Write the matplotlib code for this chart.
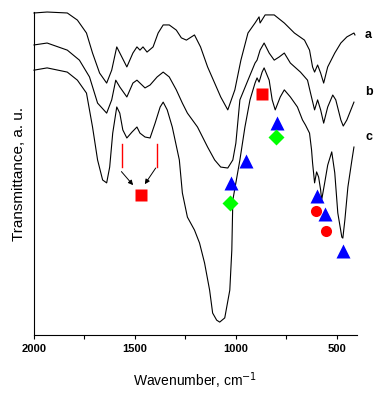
import matplotlib

matplotlib.use("Agg")
import matplotlib.pyplot as plt  # noqa: E402

plt.rcParams["font.family"] = ["Liberation Sans", "DejaVu Sans"]

# spectra: wavenumber (cm-1) and transmittance (a.u.)
wn_a = [2000, 1935, 1835, 1785, 1740, 1710, 1675, 1640, 1615, 1590, 1565, 1540,
        1510, 1490, 1475, 1460, 1440, 1410, 1385, 1360, 1330, 1295, 1270, 1245,
        1205, 1175, 1140, 1105, 1075, 1040, 1005, 975, 940, 905, 885, 880, 855,
        810, 760, 710, 660, 635, 620, 610, 595, 580, 565, 545, 510, 480, 450,
        415, 410]
t_a = [99.7, 100.0, 99.7, 97.5, 93.5, 87.3, 81.1, 78.0, 82.0, 89.2, 86.1, 83.0,
       87.3, 89.2, 88.2, 89.2, 87.6, 89.2, 93.5, 96.0, 96.0, 94.4, 92.0, 91.3,
       92.9, 89.2, 83.0, 78.0, 73.7, 69.7, 75.9, 85.1, 93.5, 96.6, 98.5, 96.6,
       99.1, 99.1, 96.6, 93.5, 91.3, 88.2, 83.0, 81.4, 83.6, 81.1, 78.0, 83.0,
       87.3, 90.4, 92.3, 93.5, 92.9]

wn_b = [2000, 1935, 1835, 1775, 1725, 1685, 1640, 1615, 1595, 1575, 1540, 1510,
        1490, 1475, 1450, 1425, 1390, 1360, 1330, 1295, 1265, 1240, 1190, 1140,
        1105, 1075, 1040, 1015, 1000, 980, 940, 905, 895, 880, 860, 835, 810,
        785, 760, 730, 680, 645, 630, 610, 595, 580, 565, 545, 520, 505, 480,
        468, 450, 415]
t_b = [89.8, 90.4, 88.2, 85.1, 79.9, 71.8, 68.7, 72.8, 78.9, 76.8, 73.7, 78.0,
       78.9, 78.0, 76.5, 77.4, 79.9, 81.4, 79.9, 75.9, 71.8, 68.7, 64.4, 58.2,
       54.2, 52.0, 51.7, 54.2, 59.4, 72.8, 78.9, 84.2, 85.1, 88.2, 90.4, 87.3,
       85.1, 86.1, 87.3, 84.2, 81.4, 78.9, 74.9, 69.7, 72.8, 69.7, 65.6, 70.6,
       74.3, 72.8, 66.6, 64.7, 66.6, 72.1]

wn_c = [2000, 1935, 1835, 1785, 1740, 1710, 1685, 1660, 1640, 1625, 1610, 1590,
        1575, 1560, 1540, 1515, 1490, 1475, 1450, 1425, 1400, 1375, 1360, 1340,
        1315, 1280, 1265, 1240, 1205, 1180, 1155, 1130, 1115, 1095, 1080, 1055,
        1030, 1020, 1015, 1000, 980, 955, 930, 905, 895, 885, 870, 860, 835,
        820, 805, 780, 760, 730, 695, 670, 655, 635, 625, 620, 610, 600, 590,
        580, 575, 560, 545, 525, 510, 495, 475, 470, 460, 445, 425, 415]
t_c = [82.0, 82.7, 81.4, 78.9, 74.9, 64.4, 54.2, 48.0, 47.1, 52.0, 62.5, 70.6,
       68.7, 63.5, 61.0, 62.8, 64.4, 62.5, 61.3, 61.0, 65.6, 70.6, 72.1, 69.7,
       64.4, 54.2, 44.0, 36.5, 32.5, 28.5, 22.3, 13.9, 6.8, 4.6, 4.0, 5.3,
       13.9, 26.3, 41.8, 47.1, 54.2, 64.4, 72.8, 78.0, 79.6, 78.3, 81.4, 82.7,
       78.9, 72.8, 69.7, 73.7, 75.9, 73.7, 70.6, 66.6, 65.0, 62.5, 57.3, 53.3,
       47.1, 50.5, 48.9, 44.9, 41.8, 47.1, 52.6, 56.7, 50.2, 37.8, 30.3, 30.0,
       35.6, 45.8, 54.2, 58.2]

# band assignment markers
sq_wn = [1470, 870]
sq_t = [43.3, 74.5]
tri_wn = [795, 950, 1025, 600, 560, 468]
tri_t = [65.6, 53.9, 47.1, 43.0, 37.5, 26.0]
dia_wn = [800, 1030]
dia_t = [61.3, 40.9]
circ_wn = [605, 555]
circ_t = [38.4, 32.2]

# red bracket + arrows pointing at the square
bracket_wn = [1562, 1393]
bracket_t = (59.1, 52.0)
arrow_from = [(1567, 50.6), (1397, 51.7)]
arrow_to = [(1509, 46.4), (1451, 46.7)]

curve_labels = ["a", "b", "c"]
label_t = [92.9, 75.2, 61.3]

fig = plt.figure(figsize=(3.76, 3.94), dpi=100)
ax = fig.add_axes([0.0904, 0.1497, 0.859, 0.8198])

for wn, t in [(wn_a, t_a), (wn_b, t_b), (wn_c, t_c)]:
    ax.plot(wn, t, color="black", lw=0.8, clip_on=False)

for x in bracket_wn:
    ax.plot([x, x], bracket_t, color="red", lw=1.0)
for (x0, y0), (x1, y1) in zip(arrow_from, arrow_to):
    ax.annotate("", xy=(x1, y1), xytext=(x0, y0),
                arrowprops=dict(arrowstyle="-|>", color="black", lw=0.7,
                                mutation_scale=7, shrinkA=0, shrinkB=0))

ax.plot(sq_wn, sq_t, "s", color="red", ms=8, mec="none")
ax.plot(tri_wn, tri_t, "^", color="blue", ms=10, mec="none")
ax.plot(dia_wn, dia_t, "D", color="#00ff00", ms=8, mec="none")
ax.plot(circ_wn, circ_t, "o", color="red", ms=8, mec="none")

for lbl, y in zip(curve_labels, label_t):
    ax.text(360, y, lbl, fontsize=9, fontweight="bold", va="center",
            ha="left", clip_on=False)

ax.set_xlim(2000, 400)
ax.set_ylim(0, 100)
ax.set_xticks([2000, 1500, 1000, 500])
ax.set_xticks([1750, 1250, 750], minor=True)
ax.tick_params(axis="x", which="both", direction="out", length=3, width=0.8)
ax.tick_params(axis="x", labelsize=8)
for t in ax.get_xticklabels():
    t.set_fontweight("bold")
ax.set_yticks([])
ax.spines["top"].set_visible(False)
ax.spines["right"].set_visible(False)
ax.set_xlabel("Wavenumber, cm$^{-1}$", fontsize=10, labelpad=12)
ax.set_ylabel("Transmittance, a. u.", fontsize=11, labelpad=6)

fig.savefig("out.png", dpi=100)
